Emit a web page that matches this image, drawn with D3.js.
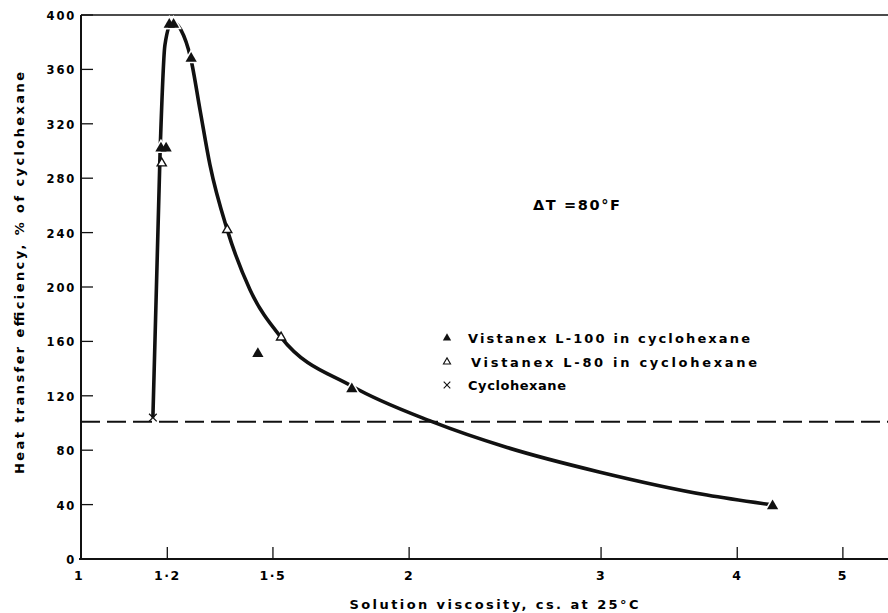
<!DOCTYPE html>
<html>
<head>
<meta charset="utf-8">
<script src="https://cdn.jsdelivr.net/npm/d3@7"></script>
<style>
  body { margin: 0; background: #fff; }
  svg { display: block; }
  text { font-family: "DejaVu Sans", sans-serif; fill: #000; font-weight: bold; }
</style>
</head>
<body>
<svg id="chart" width="888" height="613"></svg>
<script>
// data
var xTickValues = [1, 1.2, 1.5, 2, 3, 4, 5];
var xTickLabels = ["1", "1·2", "1·5", "2", "3", "4", "5"];
var yTickValues = [0, 40, 80, 120, 160, 200, 240, 280, 320, 360, 400];

var l100X = [1.184, 1.197, 1.205, 1.216, 1.262, 1.453, 1.772, 4.31];
var l100Y = [302, 302, 393, 393, 368, 151, 125, 39];
var l80X = [1.186, 1.362, 1.526];
var l80Y = [291, 242, 163];
var cycloX = [1.164];
var cycloY = [104];

var curveX = [1.164, 1.182, 1.194, 1.212, 1.235, 1.261, 1.286, 1.313, 1.362, 1.429, 1.526, 1.773, 2.099, 2.460, 2.988, 3.752, 4.286];
var curveY = [104, 301, 378, 395, 389, 368, 330, 290, 242, 198, 163, 127, 101, 82, 64, 47, 40];

var refLine = 101;
var legendLabels = ["Vistanex  L-100  in  cyclohexane", "Vistanex  L-80  in  cyclohexane", "Cyclohexane"];

var svg = d3.select("#chart");

var x = d3.scaleLog().domain([1, 5.5]).range([81, 888]);
var y = d3.scaleLinear().domain([0, 400]).range([559, 15]);

// frame
svg.append("line").attr("x1", 81).attr("x2", 888).attr("y1", y(400)).attr("y2", y(400))
  .attr("stroke", "#111").attr("stroke-width", 1.6);
svg.append("line").attr("x1", 81).attr("x2", 81).attr("y1", y(400)).attr("y2", y(0))
  .attr("stroke", "#111").attr("stroke-width", 2);
svg.append("line").attr("x1", 79).attr("x2", 888).attr("y1", y(0)).attr("y2", y(0))
  .attr("stroke", "#111").attr("stroke-width", 2);

// y ticks
yTickValues.forEach(function(v) {
  svg.append("line").attr("x1", 81).attr("x2", 93).attr("y1", y(v)).attr("y2", y(v))
    .attr("stroke", "#111").attr("stroke-width", 1.3);
  svg.append("text").attr("x", 76).attr("y", y(v) + 5)
    .attr("text-anchor", "end").attr("font-size", 11.5).attr("letter-spacing", 1.8)
    .text(v);
});

// x ticks
xTickValues.forEach(function(v, i) {
  if (v > 1) {
    svg.append("line").attr("x1", x(v)).attr("x2", x(v)).attr("y1", y(0)).attr("y2", y(0) - 12)
      .attr("stroke", "#111").attr("stroke-width", 1.3);
  }
  svg.append("text").attr("x", i == 0 ? 79 : x(v)).attr("y", 580)
    .attr("text-anchor", "middle").attr("font-size", 12.5).attr("letter-spacing", 1.5)
    .text(xTickLabels[i]);
});

// axis titles
svg.append("text").attr("x", 494).attr("y", 609).attr("text-anchor", "middle")
  .attr("font-size", 13).attr("textLength", 289).attr("lengthAdjust", "spacing")
  .text("Solution  viscosity,    cs.  at  25°C");
svg.append("text").attr("transform", "translate(24,273) rotate(-90)").attr("text-anchor", "middle")
  .attr("font-size", 13).attr("textLength", 402).attr("lengthAdjust", "spacing")
  .text("Heat  transfer  efficiency,    %  of  cyclohexane");

// dashed reference
svg.append("line").attr("x1", 81).attr("x2", 888).attr("y1", y(refLine)).attr("y2", y(refLine))
  .attr("stroke", "#111").attr("stroke-width", 2).attr("stroke-dasharray", "19,7");

// fitted curve
var pts = curveX.map(function(d, i) { return [x(d), y(curveY[i])]; });
svg.append("path").attr("d", d3.line().curve(d3.curveMonotoneX)(pts))
  .attr("fill", "none").attr("stroke", "#111").attr("stroke-width", 3.6);

var tri = d3.symbol().type(d3.symbolTriangle);

// L-100 points: white halo first, then the solid marks
l100X.forEach(function(d, i) {
  svg.append("path").attr("d", tri.size(55)())
    .attr("transform", "translate(" + x(d) + "," + y(l100Y[i]) + ")")
    .attr("fill", "#fff").attr("stroke", "#fff").attr("stroke-width", 3);
});
l100X.forEach(function(d, i) {
  svg.append("path").attr("d", tri.size(55)())
    .attr("transform", "translate(" + x(d) + "," + y(l100Y[i]) + ")")
    .attr("fill", "#111");
});
// L-80 points
l80X.forEach(function(d, i) {
  svg.append("path").attr("d", tri.size(36)())
    .attr("transform", "translate(" + x(d) + "," + y(l80Y[i]) + ")")
    .attr("fill", "#fff").attr("stroke", "#111").attr("stroke-width", 1.4);
});
// cyclohexane
cycloX.forEach(function(d, i) {
  svg.append("path").attr("d", d3.symbol().type(d3.symbolX).size(40)())
    .attr("transform", "translate(" + x(d) + "," + y(cycloY[i]) + ")")
    .attr("fill", "none").attr("stroke", "#111").attr("stroke-width", 1.3);
});

// annotation
svg.append("text").attr("x", 533).attr("y", 210).attr("font-size", 14.5)
  .attr("textLength", 87).attr("lengthAdjust", "spacing").text("ΔT =80°F");

// legend
var legendY = [338, 362, 385];
var legendLen = [282, 286, 98];
legendLabels.forEach(function(t, i) {
  var g = svg.append("g").attr("transform", "translate(447," + legendY[i] + ")");
  if (i == 0) {
    g.append("path").attr("d", tri.size(30)()).attr("fill", "#111");
  } else if (i == 1) {
    g.append("path").attr("d", tri.size(22)()).attr("fill", "#fff").attr("stroke", "#111").attr("stroke-width", 1.1);
  } else {
    g.append("path").attr("d", d3.symbol().type(d3.symbolX).size(30)()).attr("fill", "none")
      .attr("stroke", "#111").attr("stroke-width", 1.1);
  }
  g.append("text").attr("x", i == 1 ? 24 : 21).attr("y", 5).attr("font-size", 13)
    .attr("textLength", legendLen[i]).attr("lengthAdjust", "spacing").text(t);
});
</script>
</body>
</html>
